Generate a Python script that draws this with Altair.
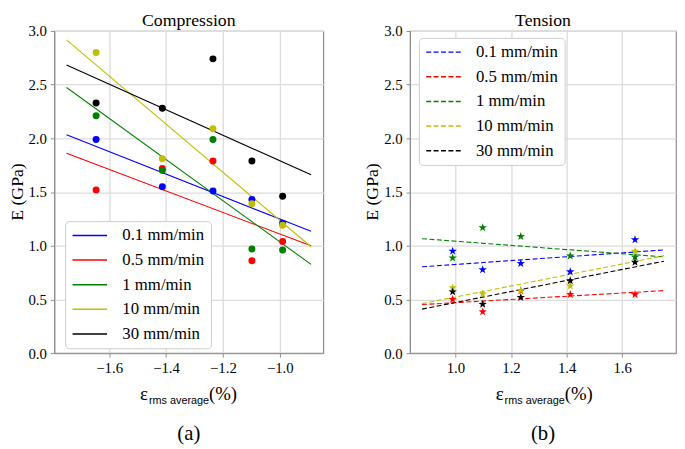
import altair as alt
import pandas as pd

speeds = ["0.1 mm/min", "0.5 mm/min", "1 mm/min", "10 mm/min", "30 mm/min"]
colors = ["#0000ff", "#ff0000", "#008000", "#bfbf00", "#000000"]

# Compression (a)
comp_strain = [-1.646, -1.413, -1.235, -1.098, -0.990]
comp_01 = [1.99, 1.55, 1.51, 1.43, 1.21]
comp_05 = [1.52, 1.72, 1.79, 0.86, 1.04]
comp_1 = [2.21, 1.70, 1.99, 0.97, 0.96]
comp_10 = [2.80, 1.81, 2.09, 1.39, 1.19]
comp_30 = [2.33, 2.28, 2.74, 1.79, 1.46]

# Tension (b)
tens_strain = [0.990, 1.098, 1.235, 1.413, 1.646]
tens_01 = [0.95, 0.777, 0.835, 0.759, 1.056]
tens_05 = [0.50, 0.385, 0.58, 0.546, 0.546]
tens_1 = [0.886, 1.169, 1.087, 0.905, 0.895]
tens_10 = [0.61, 0.553, 0.583, 0.626, 0.95]
tens_30 = [0.571, 0.455, 0.519, 0.674, 0.847]

y_ticks = [0.0, 0.5, 1.0, 1.5, 2.0, 2.5, 3.0]
comp_x_ticks = [-1.6, -1.4, -1.2, -1.0]
tens_x_ticks = [1.0, 1.2, 1.4, 1.6]

SERIF = "Liberation Serif"
SANS = "Liberation Sans"
H = 327
STAR = ("M0,-1L0.235,-0.324L0.951,-0.309L0.38,0.124L0.588,0.809L0,0.4"
        "L-0.588,0.809L-0.38,0.124L-0.951,-0.309L-0.235,-0.324Z")


def long_df(xs, series):
    rows = []
    for name, vals in zip(speeds, series):
        for xv, yv in zip(xs, vals):
            rows.append({"strain": xv, "E": yv, "speed": name})
    return pd.DataFrame(rows)


comp_df = long_df(comp_strain, [comp_01, comp_05, comp_1, comp_10, comp_30])
tens_df = long_df(tens_strain, [tens_01, tens_05, tens_1, tens_10, tens_30])


def panel(df, xdomain, xticks, extent, title, lx, ly, dash, shape, size, tag, width):
    xenc = alt.X("strain:Q",
                 scale=alt.Scale(domain=xdomain, nice=False, zero=False),
                 axis=alt.Axis(values=xticks, format=".1f", title=None))
    yenc = alt.Y("E:Q",
                 scale=alt.Scale(domain=[0, 3], nice=False),
                 axis=alt.Axis(values=y_ticks, format=".1f", title=None))
    cscale = alt.Scale(domain=speeds, range=colors)
    legend_kwargs = dict(
        orient="none", legendX=lx, legendY=ly, title=None,
        symbolType="M-1,0L4,0", symbolSize=196, symbolStrokeWidth=1.5,
        labelFont=SERIF, labelFontSize=17, labelColor="black", labelOffset=35,
        fillColor="white", strokeColor="#cccccc", cornerRadius=4,
        padding=6, rowPadding=7,
    )
    if dash:
        legend_kwargs["symbolDash"] = dash
    line_kwargs = dict(strokeWidth=1.1)
    if dash:
        line_kwargs["strokeDash"] = dash
    lines = alt.Chart(df).transform_regression(
        "strain", "E", groupby=["speed"], extent=extent
    ).mark_line(**line_kwargs).encode(
        x=xenc, y=yenc,
        color=alt.Color("speed:N", scale=cscale, sort=speeds,
                        legend=alt.Legend(**legend_kwargs)),
    )
    pts = alt.Chart(df).mark_point(filled=True, shape=shape, size=size, opacity=1).encode(
        x=xenc, y=yenc,
        color=alt.Color("speed:N", scale=cscale, sort=speeds, legend=None),
    )
    one = alt.Data(values=[{"k": 1}])

    def txt(text, x, y, font, size, align="left", baseline="alphabetic", angle=0):
        return alt.Chart(one).mark_text(font=font, fontSize=size, align=align,
                                        baseline=baseline, angle=angle, color="black").encode(
            x=alt.value(x), y=alt.value(y), text=alt.value(text))

    layers = [
        lines, pts,
        txt("ε", 87, H + 48, SERIF, 19),
        txt("rms average", 96, H + 52, SANS, 11),
        txt("(%)", 157, H + 48, SERIF, 19),
        txt(tag, width / 2, H + 88, SERIF, 21, align="center"),
        txt(title, width / 2, -5, SERIF, 18, align="center"),
        txt("E (GPa)", -46, H / 2, SERIF, 18, align="center", baseline="top", angle=270),
    ]
    return alt.layer(*layers).properties(width=width, height=H)


left = panel(comp_df, [-1.793, -0.847], comp_x_ticks, [-1.75, -0.89], "Compression",
             11, 193, None, "circle", 50, "(a)", 273)
right = panel(tens_df, [0.8365, 1.7935], tens_x_ticks, [0.88, 1.75], "Tension",
              9, 7, [5, 2.5], STAR, 80, "(b)", 270)

chart = alt.hconcat(left, right, spacing=40).resolve_scale(
    color="independent", x="independent", y="independent"
).resolve_legend(color="independent").configure(
    padding={"left": 0, "top": 0, "right": 0, "bottom": 0},
    background="white",
).configure_view(
    stroke="#8c8c8c", strokeWidth=1.2
).configure_axis(
    labelFont=SERIF, labelFontSize=15, labelColor="black",
    tickColor="#8c8c8c", tickSize=4, domainColor="#8c8c8c",
    gridColor="#dcdcdc", gridWidth=1.3, labelPadding=4,
)

chart.save("out.html", embed_options={"renderer": "svg", "actions": False})
